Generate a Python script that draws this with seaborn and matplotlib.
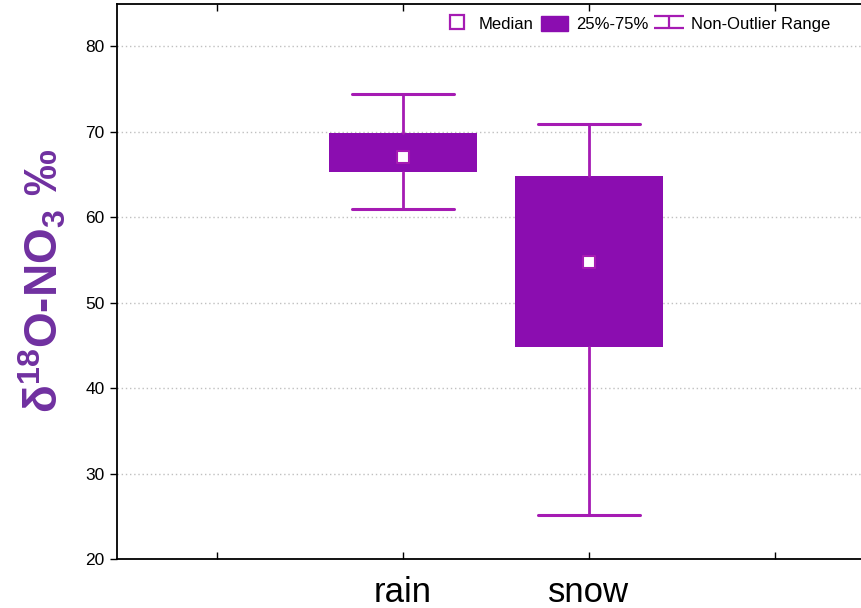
#!/usr/bin/env python3
"""
Box summary of d18O-NO3 for rain and snow samples.
"""

import matplotlib
matplotlib.use("Agg")
import matplotlib.pyplot as plt
import seaborn as sns
import pandas as pd
from matplotlib.lines import Line2D
from matplotlib.patches import Patch
from matplotlib.path import Path

# summary stats
categories = ["rain", "snow"]
medians = [67.0, 54.7]
q1 = [65.3, 44.8]
q3 = [69.8, 64.8]
whisker_lo = [60.9, 25.1]
whisker_hi = [74.4, 70.9]

box_color = "#8B0DB0"
line_color = "#A51BB3"
label_color = "#7030A0"

sns.set_style("white")
plt.rcParams["font.family"] = ["Liberation Sans", "DejaVu Sans"]
plt.rcParams["text.color"] = "black"
plt.rcParams["xtick.color"] = "black"
plt.rcParams["ytick.color"] = "black"
plt.rcParams["mathtext.fontset"] = "custom"
plt.rcParams["mathtext.rm"] = "Liberation Sans:bold"
plt.rcParams["mathtext.bf"] = "Liberation Sans:bold"
plt.rcParams["mathtext.default"] = "bf"

fig = plt.figure(figsize=(8.61, 6.08), dpi=100)
ax = fig.add_axes([117 / 861, 49 / 608, 758 / 861, 555.5 / 608])

positions = [1, 2]
stats = []
for i, cat in enumerate(categories):
    stats.append(dict(label=cat, med=medians[i], q1=q1[i], q3=q3[i],
                      whislo=whisker_lo[i], whishi=whisker_hi[i], fliers=[]))

ax.bxp(stats, positions=positions, widths=0.8, patch_artist=True,
       showfliers=False, showcaps=True,
       boxprops=dict(facecolor=box_color, edgecolor=box_color, linewidth=0),
       whiskerprops=dict(color=line_color, linewidth=2),
       capprops=dict(color=line_color, linewidth=2.2),
       medianprops=dict(linewidth=0), capwidths=0.55, zorder=2)

med_df = pd.DataFrame({"pos": positions, "median": medians})
sns.scatterplot(data=med_df, x="pos", y="median", marker="s", s=75,
                color="white", edgecolor=line_color, linewidth=1.5,
                ax=ax, zorder=4, legend=False)

ax.set_xlim(-0.54, 3.54)
ax.set_ylim(20, 85)
ax.set_xticks([0, 1, 2, 3])
ax.set_xticklabels(["", "rain", "snow", ""], fontsize=25, color="black")
ax.set_yticks([20, 30, 40, 50, 60, 70, 80])
ax.tick_params(axis="y", direction="out", length=5, width=1, labelsize=12.5,
               left=True, colors="black", pad=4)
ax.tick_params(axis="x", direction="in", length=5, width=1, bottom=True,
               top=True, pad=12)
ax.set_xlabel("")
ax.set_ylabel("δ$^{18}$O-NO$_{3}$ ‰", fontsize=33, fontweight="bold",
              color=label_color, labelpad=12)

ax.grid(axis="y", linestyle=(0, (1, 2)), color="#c0c0c0", linewidth=1)
ax.set_axisbelow(True)
for side in ["left", "bottom", "top"]:
    ax.spines[side].set_color("black")
    ax.spines[side].set_linewidth(1.3)
ax.spines["right"].set_visible(False)

# legend
ibeam = Path([(-1, 0.4), (1, 0.4), (0, 0.4), (0, -0.4), (-1, -0.4), (1, -0.4)],
             [Path.MOVETO, Path.LINETO, Path.MOVETO, Path.LINETO,
              Path.MOVETO, Path.LINETO])
handles = [
    Line2D([], [], linestyle="none", marker="s", markersize=10,
           markerfacecolor="white", markeredgecolor=line_color,
           markeredgewidth=1.6),
    Patch(facecolor=box_color, edgecolor=box_color),
    Line2D([], [], linestyle="none", marker=ibeam, markersize=21,
           markeredgecolor=line_color, markeredgewidth=1.6,
           markerfacecolor="none"),
]
fig.legend(handles, ["Median", "25%-75%", "Non-Outlier Range"],
           loc="upper right", bbox_to_anchor=(842 / 861, 1 - 4 / 608),
           ncol=3, frameon=False, fontsize=12, handlelength=1.6,
           handleheight=1.0, handletextpad=0.5, columnspacing=0.45,
           borderpad=0.2)

fig.savefig("out.png", dpi=100)
plt.close(fig)
